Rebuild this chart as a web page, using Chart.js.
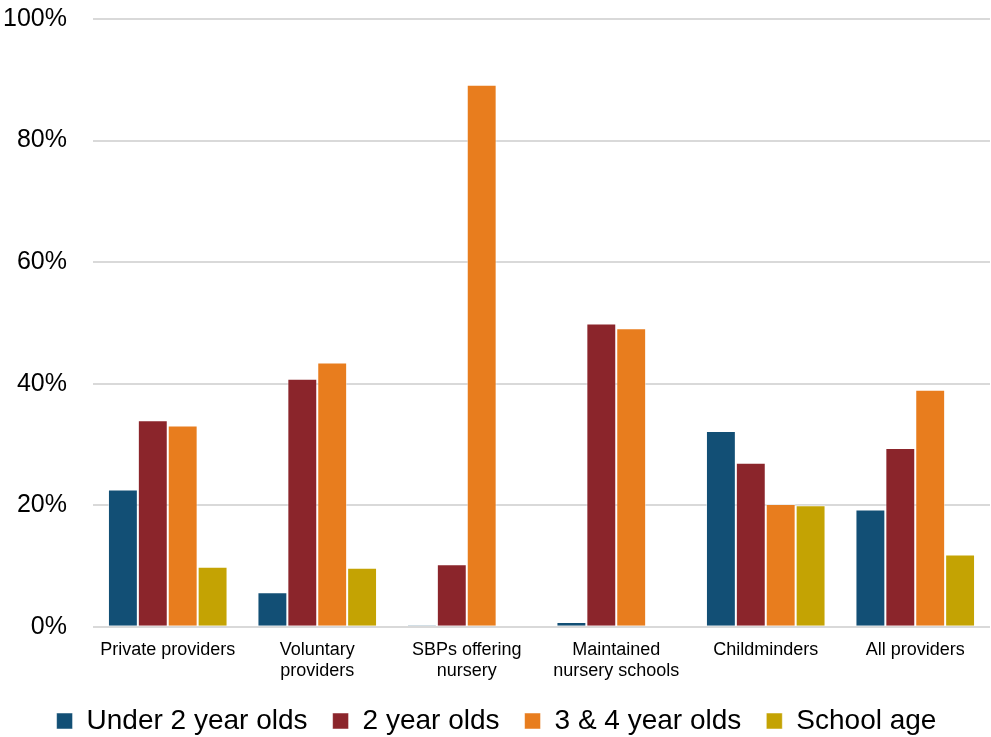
<!DOCTYPE html>
<html>
<head>
<meta charset="utf-8">
<script src="https://cdn.jsdelivr.net/npm/chart.js@4.4.0/dist/chart.umd.min.js"></script>
<style>
  body { margin: 0; background: #fff; }
  #wrap { width: 991px; height: 737px; position: relative; }
</style>
</head>
<body>
<div id="wrap"><canvas id="barChart"></canvas></div>
<script>
// categories (multi-line labels as arrays)
const categories = [
  "Private providers",
  ["Voluntary", "providers"],
  ["SBPs offering", "nursery"],
  ["Maintained", "nursery schools"],
  "Childminders",
  "All providers",
];

// share of places by age group (%)
const under2 = [22.6, 5.7, 0.3, 0.8, 32.2, 19.3];
const twoYear = [34.0, 40.8, 10.3, 49.9, 27.0, 29.4];
const threeFour = [33.1, 43.5, 89.2, 49.1, 20.2, 39.0];
const schoolAge = [9.9, 9.7, 0, 0, 20.0, 11.9];

const yTicks = [0, 20, 40, 60, 80, 100];

const ctx = document.getElementById("barChart");
const barChart = new Chart(ctx, {
  type: "bar",
  data: {
    labels: categories,
    datasets: [
      { label: "Under 2 year olds", data: under2, backgroundColor: "#124f75" },
      { label: "2 year olds", data: twoYear, backgroundColor: "#8b252b" },
      { label: "3 & 4 year olds", data: threeFour, backgroundColor: "#e87d1e" },
      { label: "School age", data: schoolAge, backgroundColor: "#c4a303" },
    ],
  },
  options: {
    responsive: true,
    maintainAspectRatio: false,
    animation: false,
    datasets: {
      bar: {
        categoryPercentage: 0.8,
        barPercentage: 1.0,
        borderWidth: 1,
        borderColor: "rgba(255,255,255,0.5)",
      },
    },
    layout: { padding: { left: 3, right: 1, top: 19, bottom: -8 } },
    scales: {
      x: {
        grid: { display: false },
        border: { display: false },
        afterFit: (axis) => {
          axis.height -= 4;
        },
        ticks: {
          color: "#000",
          font: { family: "Liberation Sans, Arial", size: 18 },
          padding: 4,
          maxRotation: 0,
          autoSkip: false,
        },
      },
      y: {
        min: 0,
        max: 100,
        afterBuildTicks: (axis) => {
          axis.ticks = yTicks.map((v) => ({ value: v }));
        },
        afterFit: (axis) => {
          axis.width = 90;
          axis.paddingTop = 0;
          axis.paddingBottom = 0;
        },
        grid: { color: "#d9d9d9", lineWidth: 2, drawTicks: false },
        border: { display: false },
        ticks: {
          color: "#000",
          font: { family: "Liberation Sans, Arial", size: 25 },
          padding: 26,
          callback: (v) => v + "%",
        },
      },
    },
    plugins: {
      legend: {
        position: "bottom",
        labels: {
          color: "#000",
          font: { family: "Liberation Sans, Arial", size: 28 },
          boxWidth: 16,
          boxHeight: 16,
          padding: 25,
        },
      },
      tooltip: { enabled: false },
    },
  },
});
</script>
</body>
</html>
